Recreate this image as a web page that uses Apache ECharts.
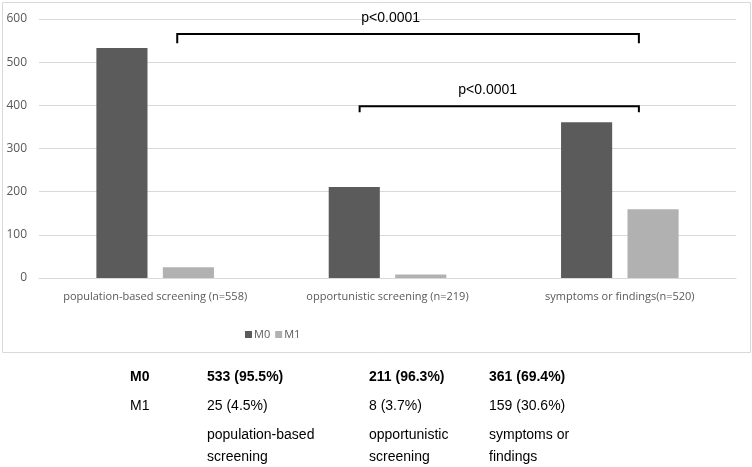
<!DOCTYPE html>
<html>
<head>
<meta charset="utf-8">
<script src="https://cdn.jsdelivr.net/npm/echarts@6/dist/echarts.min.js"></script>
<style>
html,body{margin:0;padding:0;background:#fff;}
#c{width:752px;height:467px;}
</style>
</head>
<body>
<div id="c"></div>
<script>
const categories = ['population-based screening (n=558)', 'opportunistic screening (n=219)', 'symptoms or findings(n=520)'];
const seriesNames = ['M0', 'M1'];
const m0Values = [533, 211, 361];
const m1Values = [25, 8, 159];
const yTicks = [0, 100, 200, 300, 400, 500, 600];
// brackets: category index + offset (in category widths), value level, drop in value units
const brackets = [
  {from: 0, fromOff: 0.095, to: 2, toOff: 0.082, level: 565, drop: 21, labelOff: -0.075, label: 'p<0.0001'},
  {from: 1, fromOff: -0.12, to: 2, toOff: 0.082, level: 398, drop: 14, labelOff: -0.05, label: 'p<0.0001'}
];
const tableRowLabels = ['M0', 'M1'];
const tableM0 = ['533 (95.5%)', '211 (96.3%)', '361 (69.4%)'];
const tableM1 = ['25 (4.5%)', '8 (3.7%)', '159 (30.6%)'];
const tableCats = ['population-based\nscreening', 'opportunistic\nscreening', 'symptoms or\nfindings'];

const chart = echarts.init(document.getElementById('c'), null, {renderer: 'canvas'});
const axisFont = '"Open Sans", sans-serif';
chart.setOption({
  animation: false,
  grid: {left: 39, right: 16, top: 19, bottom: 189, containLabel: false},
  legend: {
    data: seriesNames, left: 240, top: 324, itemWidth: 7, itemHeight: 7, itemGap: 5,
    icon: 'rect',
    textStyle: {fontFamily: axisFont, fontSize: 11, color: '#595959', padding: [0, 0, 0, -3]}
  },
  xAxis: {
    type: 'category', data: categories,
    axisLine: {lineStyle: {color: '#d9d9d9'}}, axisTick: {show: false},
    axisLabel: {interval: 0, fontFamily: axisFont, fontSize: 11, color: '#595959', margin: 13}
  },
  yAxis: {
    type: 'value', min: yTicks[0], max: yTicks[yTicks.length - 1], interval: 100,
    axisLine: {show: false}, axisTick: {show: false},
    splitLine: {lineStyle: {color: '#d9d9d9', width: 1}},
    axisLabel: {fontFamily: axisFont, fontSize: 12, color: '#595959', margin: 12}
  },
  series: [
    {name: 'M0', type: 'bar', data: m0Values, barWidth: '22%', barGap: '30%', itemStyle: {color: '#5b5b5b'}},
    {name: 'M1', type: 'bar', data: m1Values, barWidth: '22%', barGap: '30%', itemStyle: {color: '#b1b1b1'}}
  ]
});

const graphics = [];
graphics.push({type: 'rect', shape: {x: 2.5, y: 2.5, width: 748, height: 350}, style: {fill: null, stroke: '#d9d9d9', lineWidth: 1}, z: -1, silent: true});
const p0 = chart.convertToPixel({xAxisIndex: 0}, 0);
const p1 = chart.convertToPixel({xAxisIndex: 0}, 1);
const catW = p1 - p0;
brackets.forEach(b => {
  const x1 = chart.convertToPixel({xAxisIndex: 0}, b.from) + b.fromOff * catW;
  const x2 = chart.convertToPixel({xAxisIndex: 0}, b.to) + b.toOff * catW;
  const y = chart.convertToPixel({yAxisIndex: 0}, b.level);
  const y2 = chart.convertToPixel({yAxisIndex: 0}, b.level - b.drop);
  graphics.push({type: 'polyline', shape: {points: [[x1, y2], [x1, y], [x2, y], [x2, y2]]}, style: {stroke: '#000', lineWidth: 2, fill: null}, z: 10});
  graphics.push({type: 'text', x: (x1 + x2) / 2 + b.labelOff * catW, y: y - 9, style: {text: b.label, font: '14px "Liberation Sans", Arial, sans-serif', fill: '#000', textAlign: 'center', textVerticalAlign: 'bottom'}, z: 10});
});
const tFont = '14px "Liberation Sans", Arial, sans-serif';
const tBold = 'bold 14px "Liberation Sans", Arial, sans-serif';
const colX = [207, 369, 489];
graphics.push({type: 'text', x: 130, y: 377, style: {text: tableRowLabels[0], font: tBold, fill: '#000', textVerticalAlign: 'middle'}});
graphics.push({type: 'text', x: 130, y: 406, style: {text: tableRowLabels[1], font: tFont, fill: '#000', textVerticalAlign: 'middle'}});
for (let i = 0; i < 3; i++) {
  graphics.push({type: 'text', x: colX[i], y: 377, style: {text: tableM0[i], font: tBold, fill: '#000', textVerticalAlign: 'middle'}});
  graphics.push({type: 'text', x: colX[i], y: 406, style: {text: tableM1[i], font: tFont, fill: '#000', textVerticalAlign: 'middle'}});
  graphics.push({type: 'text', x: colX[i], y: 424, style: {text: tableCats[i], font: tFont, fill: '#000', lineHeight: 22, textVerticalAlign: 'top'}});
}
chart.setOption({graphic: graphics});
</script>
</body>
</html>
